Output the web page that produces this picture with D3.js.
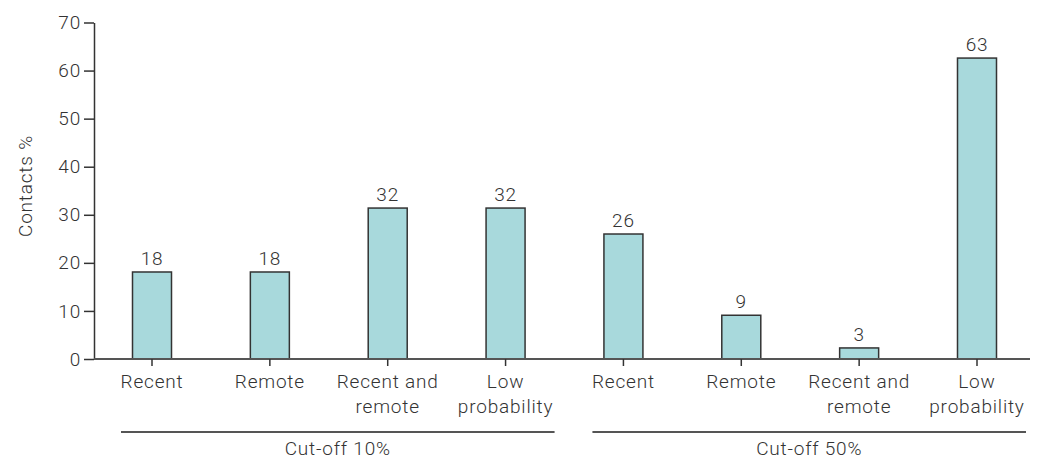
<!DOCTYPE html>
<html>
<head>
<meta charset="utf-8">
<script src="https://cdn.jsdelivr.net/npm/d3@7"></script>
<style>
  html, body { margin: 0; padding: 0; background: #fff; }
  svg { display: block; }
  text { font-family: Roboto, "DejaVu Sans", sans-serif; fill: #333; font-weight: 300; letter-spacing: 0.8px; }
</style>
</head>
<body>
<svg id="chart" width="1046" height="461"></svg>
<script>
// ---- data ----
const categories = ["Recent", "Remote", "Recent and remote", "Low probability",
                    "Recent", "Remote", "Recent and remote", "Low probability"];
const categoryLines = [["Recent"], ["Remote"], ["Recent and", "remote"], ["Low", "probability"],
                       ["Recent"], ["Remote"], ["Recent and", "remote"], ["Low", "probability"]];
const values = [18.1, 18.1, 31.4, 31.4, 26.0, 9.1, 2.3, 62.6];
const valueLabels = ["18", "18", "32", "32", "26", "9", "3", "63"];
const groups = ["Cut-off 10%", "Cut-off 50%"];
const groupMembers = [[0, 1, 2, 3], [4, 5, 6, 7]];
const yTicks = [0, 10, 20, 30, 40, 50, 60, 70];
const yTitle = "Contacts %";

// ---- layout ----
const svg = d3.select("#chart");
const fontSize = 19;
const axisX = 94, baseY = 359, topY = 22.5, axisEnd = 1030;
const barW = 39;
const idx = d3.range(values.length);

const x = d3.scalePoint().domain(idx).range([152, 977]);
const y = d3.scaleLinear().domain([0, 70]).range([baseY, topY]);

// bars
svg.append("g").selectAll("rect").data(idx).join("rect")
  .attr("x", i => x(i) - barW / 2)
  .attr("y", i => y(values[i]))
  .attr("width", barW)
  .attr("height", i => y(0) - y(values[i]))
  .attr("fill", "#a8d9dc")
  .attr("stroke", "#333")
  .attr("stroke-width", 1.5);

// value labels
svg.append("g").selectAll("text").data(idx).join("text")
  .attr("x", i => x(i))
  .attr("y", i => y(values[i]) - 7)
  .attr("text-anchor", "middle")
  .attr("font-size", fontSize)
  .text(i => valueLabels[i]);

// y axis
const yAxis = d3.axisLeft(y).tickValues(yTicks).tickSize(10).tickPadding(3).tickSizeOuter(0);
const gy = svg.append("g").attr("transform", `translate(${axisX},0)`).call(yAxis);
gy.select(".domain").attr("stroke", "#333").attr("stroke-width", 1.5);
gy.selectAll(".tick line").attr("stroke", "#333").attr("stroke-width", 1.5);
gy.selectAll(".tick text").attr("font-size", fontSize).attr("fill", "#333")
  .style("font-family", "Roboto, 'DejaVu Sans', sans-serif");

// x axis line
svg.append("line")
  .attr("x1", axisX).attr("x2", axisEnd)
  .attr("y1", baseY).attr("y2", baseY)
  .attr("stroke", "#555").attr("stroke-width", 2);

// x ticks
svg.append("g").selectAll("line").data(idx).join("line")
  .attr("x1", i => x(i)).attr("x2", i => x(i))
  .attr("y1", baseY).attr("y2", baseY + 7)
  .attr("stroke", "#333").attr("stroke-width", 1.5);

// category labels
const cat = svg.append("g").selectAll("text").data(idx).join("text")
  .attr("text-anchor", "middle")
  .attr("font-size", fontSize);
cat.each(function(i) {
  const t = d3.select(this);
  categoryLines[i].forEach((ln, k) => {
    t.append("tspan").attr("x", x(i)).attr("y", 388 + k * 25).text(ln);
  });
});

// group underline + labels
groups.forEach((g, gi) => {
  const m = groupMembers[gi];
  const x1 = x(m[0]) - 31, x2 = x(m[m.length - 1]) + 49;
  svg.append("line")
    .attr("x1", x1).attr("x2", x2)
    .attr("y1", 432).attr("y2", 432)
    .attr("stroke", "#555").attr("stroke-width", 2);
  svg.append("text")
    .attr("x", (x1 + x2) / 2)
    .attr("y", 455)
    .attr("text-anchor", "middle")
    .attr("font-size", fontSize)
    .text(g);
});

// y title
svg.append("text")
  .attr("transform", `translate(32,186) rotate(-90)`)
  .attr("text-anchor", "middle")
  .attr("font-size", fontSize)
  .text(yTitle);
</script>
</body>
</html>
